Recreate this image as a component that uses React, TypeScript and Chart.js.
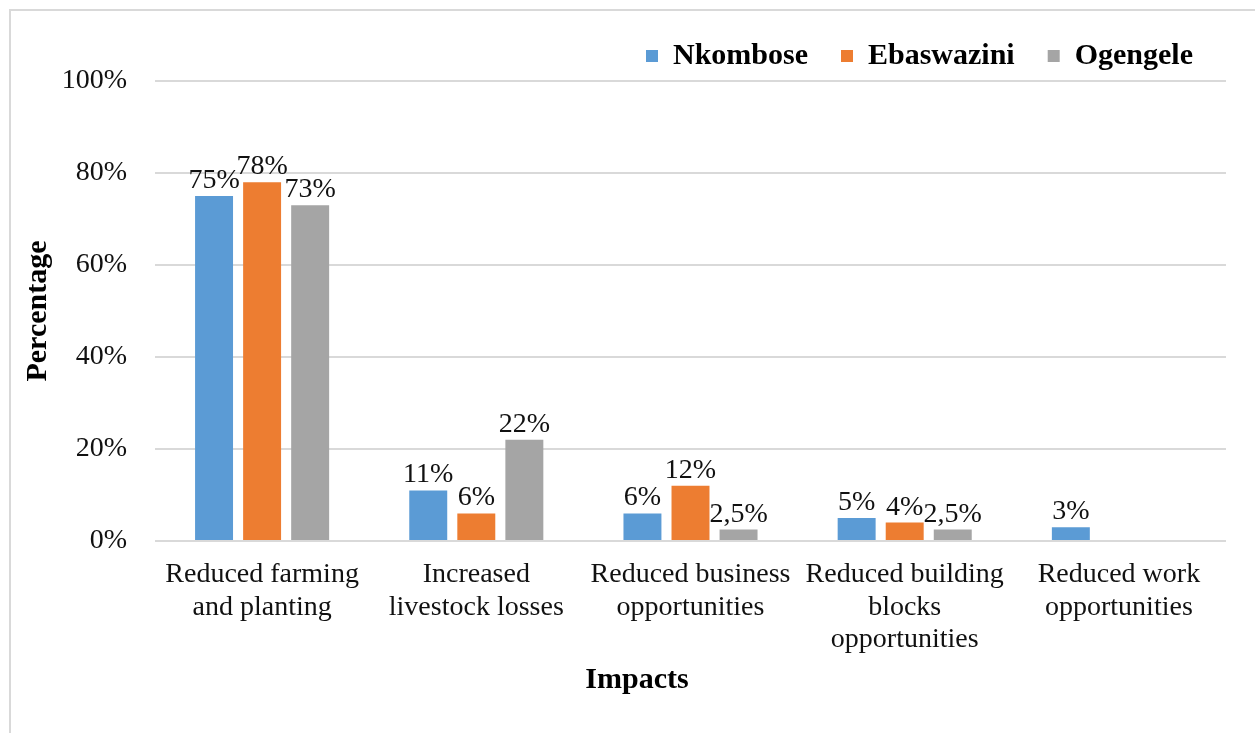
import React, { useEffect, useRef } from "react";
import { Chart, registerables } from "chart.js";

Chart.register(...registerables);

const categories: string[][] = [
  ["Reduced farming", "and planting"],
  ["Increased", "livestock losses"],
  ["Reduced business", "opportunities"],
  ["Reduced building", "blocks", "opportunities"],
  ["Reduced work", "opportunities"],
];
const seriesNames = ["Nkombose", "Ebaswazini", "Ogengele"];
const nkombose: (number | null)[] = [75, 11, 6, 5, 3];
const ebaswazini: (number | null)[] = [78, 6, 12, 4, null];
const ogengele: (number | null)[] = [73, 22, 2.5, 2.5, null];
const seriesColors = ["#5b9bd5", "#ed7d31", "#a5a5a5"];
const yMin = 0;
const yMax = 100;
const yStep = 20;

const FONT = "'Liberation Serif', 'Times New Roman', serif";

const fmt = (v: number) => String(v).replace(".", ",") + "%";

const valueLabels = {
  id: "valueLabels",
  afterDatasetsDraw(chart: any) {
    const ctx = chart.ctx;
    ctx.save();
    ctx.font = `28px ${FONT}`;
    ctx.fillStyle = "#111";
    ctx.textAlign = "center";
    ctx.textBaseline = "alphabetic";
    chart.data.datasets.forEach((ds: any, i: number) => {
      const meta = chart.getDatasetMeta(i);
      meta.data.forEach((el: any, j: number) => {
        const v = ds.data[j];
        if (v === null || v === undefined) return;
        ctx.fillText(fmt(v), el.x, el.y - 8);
      });
    });
    ctx.restore();
  },
};

export default function App() {
  const ref = useRef<HTMLCanvasElement>(null);
  useEffect(() => {
    if (!ref.current) return;
    const data = [nkombose, ebaswazini, ogengele];
    const chart = new Chart(ref.current, {
      type: "bar",
      data: {
        labels: categories,
        datasets: seriesNames.map((name, i) => ({
          label: name,
          data: data[i],
          backgroundColor: seriesColors[i],
          borderWidth: 0,
          categoryPercentage: 0.673,
          barPercentage: 0.79,
        })),
      },
      options: {
        responsive: false,
        animation: false,
        layout: { padding: { top: 8, left: 0, right: 0, bottom: 0 } },
        plugins: {
          legend: {
            position: "top",
            align: "end",
            fullSize: false,
            labels: {
              boxWidth: 12,
              boxHeight: 12,
              padding: 33,
              color: "#000",
              font: { family: FONT, size: 30, weight: "bold" },
            },
          },
          title: {
            display: true,
            position: "bottom",
            text: "Impacts",
            color: "#000",
            font: { family: FONT, size: 30, weight: "bold", lineHeight: 1.2 },
            padding: { top: 0, bottom: 35 },
          },
          tooltip: { enabled: false },
        },
        scales: {
          x: {
            grid: { display: false, drawTicks: false },
            border: { display: false },
            ticks: {
              autoSkip: false,
              maxRotation: 0,
              minRotation: 0,
              padding: 18,
              color: "#111",
              font: { family: FONT, size: 28, lineHeight: 1.15 },
            },
            afterFit(s: any) {
              s.height = 121;
            },
          },
          y: {
            min: yMin,
            max: yMax,
            grid: { color: "#d9d9d9", lineWidth: 2, drawTicks: false },
            border: { display: false },
            ticks: {
              stepSize: yStep,
              padding: 28,
              color: "#111",
              font: { family: FONT, size: 28 },
              callback: (v: any) => v + "%",
            },
            title: {
              display: true,
              text: "Percentage",
              color: "#000",
              font: { family: FONT, size: 30, weight: "bold", lineHeight: 1.2 },
              padding: { top: 20, bottom: 0 },
            },
            afterFit(s: any) {
              s.width = 155;
            },
          },
          yR: {
            type: "linear",
            position: "right",
            display: true,
            grid: { display: false, drawTicks: false },
            border: { display: false },
            ticks: { display: false },
            afterFit(s: any) {
              s.width = 48;
            },
          },
        },
      } as any,
      plugins: [valueLabels],
    });
    return () => chart.destroy();
  }, []);

  return (
    <div
      style={{
        position: "fixed",
        left: 0,
        top: 0,
        width: 1255,
        height: 733,
        overflow: "hidden",
        background: "#fff",
      }}
    >
      <div
        style={{
          position: "absolute",
          left: 9,
          top: 9,
          width: 1400,
          height: 900,
          border: "2px solid #d9d9d9",
        }}
      />
      <canvas
        ref={ref}
        width={1274}
        height={733}
        style={{ position: "absolute", left: 0, top: 0, width: 1274, height: 733, display: "block" }}
      />
    </div>
  );
}
